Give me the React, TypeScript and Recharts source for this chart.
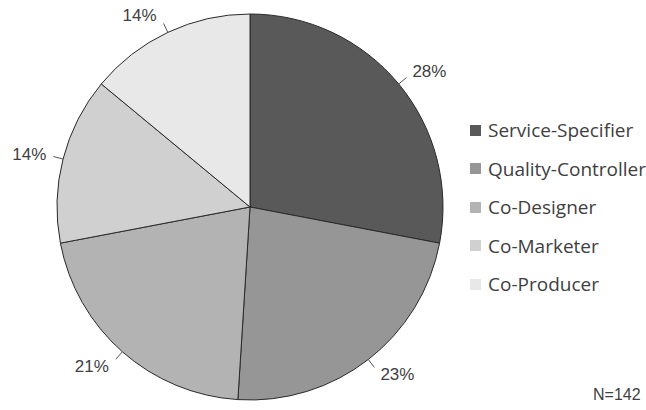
import { Legend, Pie, PieChart, Cell } from "recharts";

const roles = ["Service-Specifier", "Quality-Controller", "Co-Designer", "Co-Marketer", "Co-Producer"];
const shares = [28, 23, 21, 14, 14];
const shades = ["#595959", "#969696", "#b3b3b3", "#d0d0d0", "#e8e8e8"];
const sampleNote = "N=142";

const data = roles.map((name, i) => ({ name, value: shares[i] }));
const RAD = Math.PI / 180;

const renderLabel = (p: any) => {
  const { cx, cy, midAngle, outerRadius, value } = p;
  const c = Math.cos(-midAngle * RAD);
  const s = Math.sin(-midAngle * RAD);
  const r = outerRadius + 10;
  const x = cx + r * c + (c >= 0 ? 6 : -7);
  const y = cy + r * s + s * 9;
  return (
    <text
      x={x}
      y={y}
      fill="#404040"
      fontSize={17}
      fontFamily="'Liberation Sans', Arial, sans-serif"
      textAnchor={c >= 0 ? "start" : "end"}
      dominantBaseline="central"
    >
      {value}%
    </text>
  );
};

const renderLeader = (p: any) => {
  const { cx, cy, midAngle, outerRadius } = p;
  const c = Math.cos(-midAngle * RAD);
  const s = Math.sin(-midAngle * RAD);
  return (
    <path
      d={`M${cx + outerRadius * c},${cy + outerRadius * s}L${cx + (outerRadius + 10) * c},${cy + (outerRadius + 10) * s}`}
      stroke="#555"
      strokeWidth={1}
      fill="none"
    />
  );
};

const renderLegend = () => (
  <div style={{ fontFamily: "'Open Sans', sans-serif", fontSize: 19, color: "#404040" }}>
    {roles.map((name, i) => (
      <div key={name} style={{ display: "flex", alignItems: "center", height: 38.5, whiteSpace: "nowrap" }}>
        <span style={{ width: 11, height: 11, background: shades[i], marginRight: 7, flex: "none" }} />
        {name}
      </div>
    ))}
  </div>
);

export default function App() {
  return (
    <div style={{ position: "relative", width: 646, height: 410, background: "#fff", overflow: "hidden" }}>
      <style>{`body{margin:0}`}</style>
      <PieChart width={646} height={410} margin={{ top: 0, right: 0, bottom: 0, left: 0 }}>
        <Pie
          data={data}
          dataKey="value"
          cx={250}
          cy={207}
          outerRadius={193}
          startAngle={90}
          endAngle={-270}
          stroke="#2a2a2a"
          strokeWidth={1}
          label={renderLabel}
          labelLine={renderLeader}
          isAnimationActive={false}
        >
          {data.map((d, i) => (
            <Cell key={d.name} fill={shades[i]} />
          ))}
        </Pie>
        <Legend
          content={renderLegend}
          layout="vertical"
          wrapperStyle={{ position: "absolute", left: 470, top: 111, width: 200 }}
        />
      </PieChart>
      <div
        style={{
          position: "absolute",
          left: 593,
          top: 386,
          fontFamily: "'Liberation Sans', Arial, sans-serif",
          fontSize: 16,
          color: "#404040",
        }}
      >
        {sampleNote}
      </div>
    </div>
  );
}
